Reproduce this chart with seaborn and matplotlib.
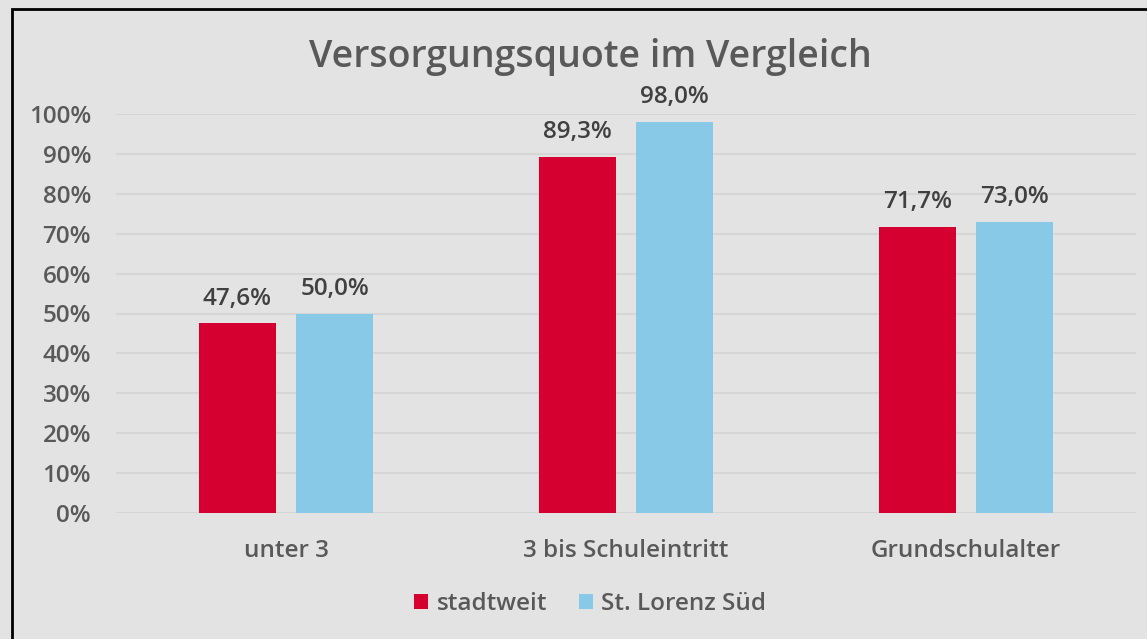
import pandas as pd
import seaborn as sns
import matplotlib.pyplot as plt
from matplotlib.patches import Rectangle
from matplotlib.font_manager import FontProperties

# Daten
kategorien = ["unter 3", "3 bis Schuleintritt", "Grundschulalter"]
stadtweit = [47.6, 89.3, 71.7]
lorenz_sued = [50.0, 98.0, 73.0]
serien = ["stadtweit", "St. Lorenz Süd"]
y_ticks = [0, 10, 20, 30, 40, 50, 60, 70, 80, 90, 100]

df = pd.DataFrame({
    "Kategorie": kategorien * 2,
    "Serie": [serien[0]] * 3 + [serien[1]] * 3,
    "Wert": stadtweit + lorenz_sued,
})

bg = "#e3e3e3"
grau = "#595959"
dunkel = "#404040"
farben = {"stadtweit": "#d5002f", "St. Lorenz Süd": "#88c9e8"}

# Open Sans Semibold direkt laden
sb_pfad = "/usr/share/fonts/truetype/open-sans/OpenSans-Semibold.ttf"
def sb(size):
    try:
        return FontProperties(fname=sb_pfad, size=size)
    except Exception:
        return FontProperties(family="Open Sans", weight="semibold", size=size)

sns.set_theme(style="white")
plt.rcParams["font.family"] = ["Open Sans", "DejaVu Sans"]

fig = plt.figure(figsize=(11.47, 6.39), dpi=100, facecolor=bg)
ax = fig.add_axes([116 / 1147, 126 / 639, 1020 / 1147, 399 / 639])
ax.set_facecolor(bg)

sns.barplot(data=df, x="Kategorie", y="Wert", hue="Serie", palette=farben,
            width=0.571, gap=0.216, saturation=1, linewidth=0, ax=ax, legend=True)

# Datenbeschriftungen
for cont in ax.containers:
    ax.bar_label(cont, labels=[f"{v:.1f}%".replace(".", ",") for v in cont.datavalues],
                 padding=9, fontproperties=sb(17.5), color=dunkel, clip_on=False)

ax.set_ylim(0, 100)
ax.set_yticks(y_ticks)
ax.set_yticklabels([f"{t}%" for t in y_ticks])
ax.yaxis.grid(True, color="#d6d6d6", lw=1.5)
ax.set_axisbelow(True)
for s in ax.spines.values():
    s.set_visible(False)
ax.tick_params(axis="both", length=0, labelcolor=grau)
ax.tick_params(axis="y", pad=18)
ax.tick_params(axis="x", pad=19)
for lab in ax.get_xticklabels() + ax.get_yticklabels():
    lab.set_fontproperties(sb(17.5))
ax.set_xlabel("")
ax.set_ylabel("")

fig.text(0.515, 1 - 57 / 639, "Versorgungsquote im Vergleich", ha="center", va="center",
         fontproperties=sb(27), color=grau)

leg = ax.legend(loc="center", bbox_to_anchor=(590 / 1147, 1 - 604 / 639),
                bbox_transform=fig.transFigure, ncol=2, frameon=False,
                handlelength=0.58, handleheight=0.58, handletextpad=0.33,
                columnspacing=1.3, labelcolor=grau, prop=sb(17.5))

# Rahmen
fig.add_artist(Rectangle((12 / 1147, -0.2), 1.2, 1.2 - 9 / 639,
                         transform=fig.transFigure, fill=False, ec="black", lw=2))

plt.savefig("out.png", dpi=100, facecolor=bg)
